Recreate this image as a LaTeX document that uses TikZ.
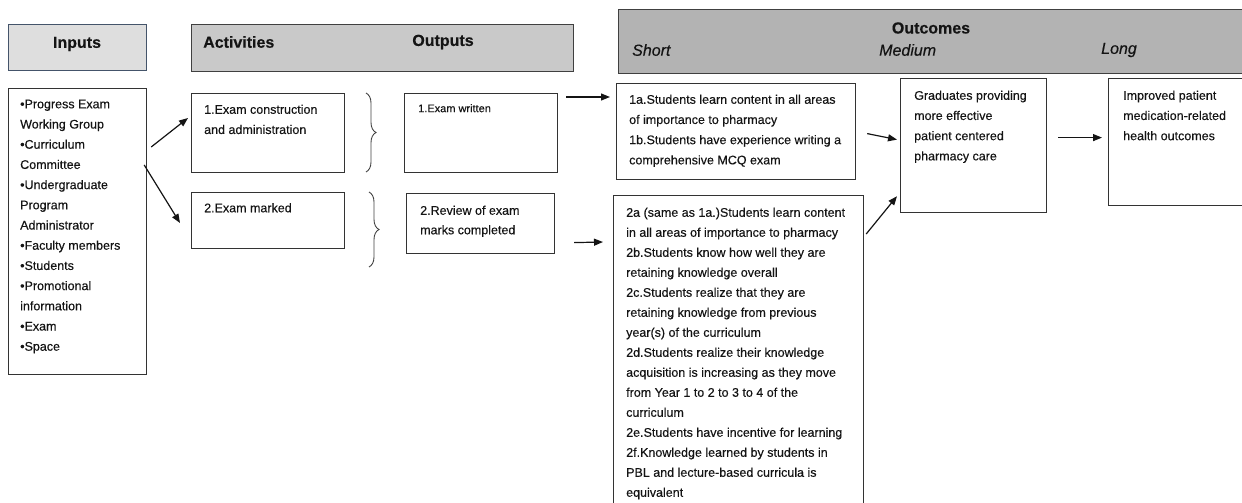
\documentclass[tikz,border=0pt]{standalone}
\usepackage{fontspec}
\setmainfont{Liberation Sans}[FakeBold=0.3]
\usetikzlibrary{arrows.meta,decorations.pathreplacing}

\definecolor{inbg}{HTML}{DEDEDE}
\definecolor{inline}{HTML}{44546A}
\definecolor{midbg}{HTML}{C9C9C9}
\definecolor{outbg}{HTML}{B3B3B3}
\definecolor{hdline}{HTML}{404040}
\definecolor{boxline}{HTML}{333333}
\definecolor{ink}{HTML}{141414}

\begin{document}
\begin{tikzpicture}[x=1pt,y=-1pt,
  >={Triangle[length=9pt,width=7pt]},
  box/.style={draw=boxline,line width=1.2pt,anchor=north west,inner sep=0pt},
  head/.style={box,line width=1.4pt,draw=hdline},
  txt/.style={anchor=north west,inner sep=0pt,align=left,text=ink,
    font=\fontsize{12.5}{20.2}\selectfont},
  hd/.style={inner sep=0pt,text=ink,font=\fontsize{16}{19}\selectfont\bfseries},
  term/.style={inner sep=0pt,anchor=west,text=ink,font=\fontsize{16}{19}\selectfont\itshape},
  arr/.style={->,line width=1.2pt,draw=ink},
  curly/.style={decorate,decoration={brace,amplitude=10pt},draw=hdline,line width=0.9pt}]
\useasboundingbox (0,0) rectangle (1242,503);

% column headings
\node[head,fill=inbg,draw=inline,minimum width=138pt,minimum height=46pt] (hin) at (8,24) {};
\node[head,fill=midbg,minimum width=382pt,minimum height=47pt] (hact) at (191,24) {};
\node[head,fill=outbg,minimum width=660pt,minimum height=64pt] (hres) at (618,9) {};
\node[hd] (tin) at (77,44) {Inputs};
\node[hd,anchor=west] (tact) at (203,42) {Activities};
\node[hd] (tout) at (443,42) {Outputs};
\node[hd] (tres) at (931,28) {Outcomes};
\node[term] (tshort) at (632,50) {Short};
\node[term] (tmed) at (879,50) {Medium};
\node[term] (tlong) at (1101,50) {Long};

% inputs
\node[box,minimum width=138pt,minimum height=286pt] (inp) at (8,88) {};
\node[txt] (inptext) at ([shift={(12pt,-11.5pt)}]inp.north west)
  {•Progress Exam\\Working Group\\•Curriculum\\Committee\\•Undergraduate\\Program\\
   Administrator\\•Faculty members\\•Students\\•Promotional\\information\\•Exam\\•Space};

% activities
\node[box,minimum width=153pt,minimum height=79pt] (act1) at (191,93) {};
\node[txt] (act1text) at ([shift={(13pt,-11.5pt)}]act1.north west)
  {1.Exam construction\\and administration};
\node[box,minimum width=153pt,minimum height=56pt] (act2) at (191,192) {};
\node[txt] (act2text) at ([shift={(13pt,-11pt)}]act2.north west) {2.Exam marked};

% braces between activities and outputs
\draw[curly] (366,93) -- (366,172);
\draw[curly] (369,192) -- (369,267);

% outputs
\node[box,minimum width=153pt,minimum height=79pt] (out1) at (404,93) {};
\node[txt,font=\fontsize{11}{18}\selectfont] (out1text) at ([shift={(14pt,-11pt)}]out1.north west)
  {1.Exam written};
\node[box,minimum width=148pt,minimum height=60pt] (out2) at (406,193) {};
\node[txt,font=\fontsize{12.5}{19.5}\selectfont] (out2text) at ([shift={(14pt,-12.5pt)}]out2.north west)
  {2.Review of exam\\marks completed};

% short term outcomes
\node[box,minimum width=239pt,minimum height=96pt] (sh1) at (616,83) {};
\node[txt] (sh1text) at ([shift={(13pt,-11.5pt)}]sh1.north west)
  {1a.Students learn content in all areas\\of importance to pharmacy\\
   1b.Students have experience writing a\\comprehensive MCQ exam};
\node[box,minimum width=250pt,minimum height=330pt] (sh2) at (613,195) {};
\node[txt,font=\fontsize{12.5}{20}\selectfont] (sh2text) at ([shift={(13pt,-12.5pt)}]sh2.north west)
  {2a (same as 1a.)Students learn content\\in all areas of importance to pharmacy\\
   2b.Students know how well they are\\retaining knowledge overall\\
   2c.Students realize that they are\\retaining knowledge from previous\\
   year(s) of the curriculum\\
   2d.Students realize their knowledge\\acquisition is increasing as they move\\
   from Year 1 to 2 to 3 to 4 of the\\curriculum\\
   2e.Students have incentive for learning\\
   2f.Knowledge learned by students in\\PBL and lecture-based curricula is\\equivalent};

% medium and long term outcomes
\node[box,minimum width=146pt,minimum height=134pt] (med) at (900,78) {};
\node[txt] (medtext) at ([shift={(14pt,-12.5pt)}]med.north west)
  {Graduates providing\\more effective\\patient centered\\pharmacy care};
\node[box,minimum width=160pt,minimum height=127pt] (lng) at (1108,78) {};
\node[txt] (lngtext) at ([shift={(15pt,-12.5pt)}]lng.north west)
  {Improved patient\\medication-related\\health outcomes};

% arrows
\draw[arr] ([shift={(4pt,-59pt)}]inp.north east) -- ([shift={(-3pt,-25pt)}]act1.north west);
\draw[arr] ([shift={(-3pt,-77pt)}]inp.north east) -- ([shift={(-11pt,-31pt)}]act2.north west);
\draw[arr] ([shift={(8pt,-4pt)}]out1.north east) -- ([shift={(-6pt,-14pt)}]sh1.north west);
\draw[arr] ([shift={(19pt,-19pt)}]out2.east) -- ([shift={(-10pt,-47pt)}]sh2.north west);
\draw[arr] ([shift={(11pt,-2pt)}]sh1.east) -- ([shift={(-3pt,6pt)}]med.west);
\draw[arr] ([shift={(2pt,-39pt)}]sh2.north east) -- ([shift={(-3pt,17pt)}]med.south west);
\draw[arr] ([shift={(11pt,8pt)}]med.east) -- ([shift={(-6pt,4.5pt)}]lng.west);
\end{tikzpicture}
\end{document}
